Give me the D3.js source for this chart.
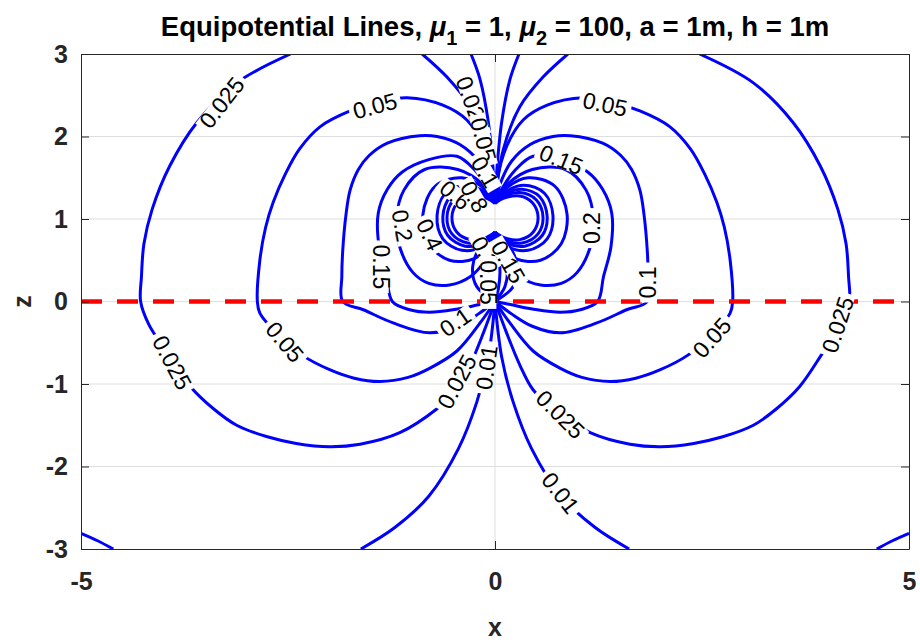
<!DOCTYPE html>
<html>
<head>
<meta charset="utf-8">
<script src="https://d3js.org/d3.v7.min.js"></script>
<style>
  body { margin: 0; background: #fff; }
  text { font-family: "Liberation Sans", Arial, Helvetica, sans-serif; }
</style>
</head>
<body>
<div id="chart"></div>
<script>

// axis ticks
var xTicks = [-5, 0, 5];
var zTicks = [-3, -2, -1, 0, 1, 2, 3];

// contour pieces, right half (x >= 0), mirrored for the left half
// points are [x, z]
var c001Top   = [[0,1.19],[0.02,1.56],[0.08,2.17],[0.18,2.69],[0.29,3.0]];
var c0025Top  = [[0,1.19],[0.10,1.84],[0.30,2.36],[0.58,2.72],[0.88,3.0]];
var c005      = [[0,1.19],[0.02,1.44],[0.14,1.88],[0.34,2.20],[0.63,2.38],[1.06,2.47],[1.40,2.42],
                 [1.75,2.31],[2.11,2.12],[2.36,1.85],[2.53,1.55],[2.68,1.2],[2.77,0.9],[2.84,0.5],
                 [2.87,0.0],[2.84,-0.14],[2.6,-0.42],[2.33,-0.65],[1.99,-0.83],[1.7,-0.93],[1.39,-0.97],
                 [1.05,-0.92],[0.79,-0.81],[0.46,-0.6],[0.18,-0.26],[0,0]];
var c01       = [[0,1.19],[0.06,1.42],[0.2,1.7],[0.42,1.9],[0.7,2.0],[0.91,2.01],[1.30,1.92],[1.52,1.77],
                 [1.65,1.6],[1.75,1.35],[1.80,1.05],[1.84,0.6],[1.85,0.3],[1.84,0],[1.59,-0.1],
                 [1.23,-0.26],[0.79,-0.38],[0.45,-0.3],[0.2,-0.15],[0,0]];
var c015      = [[0,1.19],[0.08,1.36],[0.25,1.6],[0.46,1.76],[0.8,1.72],[1.12,1.57],[1.30,1.36],
                 [1.41,1.07],[1.40,0.66],[1.31,0.30],[1.24,0],[1.03,-0.1],[0.79,-0.13],[0.45,-0.09],
                 [0.2,-0.04],[0,0]];
var c02       = [[0,1.19],[0.15,1.42],[0.45,1.6],[0.85,1.6],[1.1,1.35],[1.19,1.0],[1.15,0.66],
                 [0.99,0.35],[0.8,0.22],[0.55,0.2],[0.3,0.3],[0.12,0.5],[0.03,0.7],[0,0.84]];
var c04       = [[0,1.19],[0.12,1.36],[0.4,1.5],[0.72,1.4],[0.87,1.06],[0.8,0.7],[0.55,0.5],
                 [0.25,0.52],[0.06,0.7],[0,0.84]];
var c06       = [[0,1.19],[0.1,1.31],[0.35,1.41],[0.6,1.31],[0.70,1.04],[0.63,0.76],[0.4,0.62],
                 [0.15,0.67],[0,0.84]];
var c08       = [[0,1.19],[0.1,1.29],[0.32,1.36],[0.54,1.27],[0.63,1.03],[0.57,0.8],[0.36,0.67],
                 [0.14,0.71],[0,0.84]];
var c1        = [[0,1.19],[0.1,1.27],[0.3,1.32],[0.5,1.23],[0.58,1.02],[0.52,0.82],[0.33,0.71],
                 [0.13,0.74],[0,0.84]];
var c2        = [[0,1.19],[0.1,1.25],[0.3,1.28],[0.45,1.2],[0.52,1.02],[0.46,0.84],[0.3,0.75],
                 [0.12,0.77],[0,0.84]];
var stemA     = [[0,0.84],[0.04,0.6],[0.06,0.35],[0.04,0.15],[0,0]];
var stemB     = [[0,0.84],[0.1,0.62],[0.15,0.4],[0.12,0.18],[0,0]];
var stemC     = [[0,0.84],[0.18,0.66],[0.27,0.42],[0.22,0.18],[0,0]];
var c001Low   = [[0,0],[0.08,-0.67],[0.22,-1.22],[0.44,-1.78],[0.80,-2.36],[1.21,-2.74],[1.62,-3.0]];
var c0025Out  = [[2.47,3.0],[3.12,2.65],[3.60,2.17],[3.93,1.64],[4.14,1.12],[4.24,0.7],[4.27,0.3],
                 [4.28,0.0],[4.18,-0.28],[3.96,-0.62],[3.68,-1.03],[3.4,-1.3],[3.12,-1.50],[2.75,-1.64],
                 [2.4,-1.72],[2.0,-1.76],[1.63,-1.73],[1.15,-1.59],[0.70,-1.3],[0.46,-1.07],
                 [0.30,-0.77],[0.14,-0.38],[0,0]];
var c001Corner = [[4.61,-3.0],[4.8,-2.9],[5.0,-2.81]];

var pieces = [c001Top, c0025Top, c005, c01, c015, c02, c04, c06, c08, c1, c2,
              stemA, stemB, stemC, c001Low, c0025Out, c001Corner];

// contour labels: text, x, z, angle (deg)
var labText  = ["0.025","0.05","0.05","0.15","0.2","0.1","0.025","0.05","0.025","0.01","0.01","0.025",
                "0.1","0.05","0.025","0.15","0.2","0.4","0.6","0.8","0.025","0.05","0.1","0.1","0.15","0.05"];
var labX     = [-3.30,-1.45,1.33,0.80,1.17,1.85,4.14,2.62,0.79,0.79,-0.10,-0.46,
                -0.48,-2.54,-3.90,-1.38,-1.12,-0.79,-0.48,-0.25,-0.27,-0.14,-0.12,-0.12,0.16,-0.08];
var labZ     = [2.41,2.37,2.39,1.72,0.89,0.23,-0.28,-0.44,-1.37,-2.32,-0.80,-0.97,
                -0.25,-0.49,-0.74,0.42,0.92,0.81,1.29,1.27,2.39,1.96,1.57,0.60,0.48,0.23];
var labAngle = [-52,-15,12,22,-90,-90,-72,-48,45,52,-82,-62,
                -35,50,62,90,80,65,40,60,70,75,60,60,60,90];

var W = 920, H = 643;
var svg = d3.select("#chart").append("svg")
    .attr("width", W).attr("height", H);

var x = d3.scaleLinear().domain([-5, 5]).range([81, 909]);
var y = d3.scaleLinear().domain([-3, 3]).range([549, 54]);

svg.append("clipPath").attr("id", "clip")
  .append("rect")
    .attr("x", x(-5)).attr("y", y(3))
    .attr("width", x(5) - x(-5)).attr("height", y(-3) - y(3));

// grid
var grid = svg.append("g");
grid.selectAll(".hg").data(zTicks.slice(1, -1)).enter().append("line")
    .attr("x1", x(-5)).attr("x2", x(5))
    .attr("y1", function(d) { return y(d); }).attr("y2", function(d) { return y(d); })
    .attr("stroke", "#dedede").attr("stroke-width", 1);
grid.selectAll(".vg").data(xTicks.slice(1, -1)).enter().append("line")
    .attr("y1", y(-3)).attr("y2", y(3))
    .attr("x1", function(d) { return x(d); }).attr("x2", function(d) { return x(d); })
    .attr("stroke", "#dedede").attr("stroke-width", 1);

// contour lines
var line = d3.line()
    .x(function(d) { return x(d[0]); })
    .y(function(d) { return y(d[1]); })
    .curve(d3.curveCatmullRom.alpha(0.5));

var lines = svg.append("g").attr("clip-path", "url(#clip)");
pieces.forEach(function(p) {
  var mirrored = p.map(function(d) { return [-d[0], d[1]]; });
  [p, mirrored].forEach(function(pts) {
    lines.append("path")
      .datum(pts)
      .attr("fill", "none")
      .attr("stroke", "#0000ff")
      .attr("stroke-width", 3)
      .attr("stroke-linejoin", "round")
      .attr("d", line);
  });
});

// interface z = 0
svg.append("line")
    .attr("x1", x(-5)).attr("x2", x(5))
    .attr("y1", y(0)).attr("y2", y(0))
    .attr("stroke", "#ff0000").attr("stroke-width", 4.5)
    .attr("stroke-dasharray", "21,15");

// contour labels, with a white strip that breaks the line like clabel does
var lab = svg.append("g").selectAll("g").data(labText).enter().append("g")
    .attr("transform", function(d, i) {
      return "translate(" + x(labX[i]) + "," + y(labZ[i]) + ") rotate(" + labAngle[i] + ")";
    });
lab.append("rect").attr("fill", "#fff");
lab.append("text")
    .attr("text-anchor", "middle")
    .attr("dy", "0.35em")
    .attr("font-size", "23px")
    .attr("fill", "#000")
    .text(function(d) { return d; });
lab.each(function() {
  var g = d3.select(this);
  var w = g.select("text").node().getComputedTextLength() + 8;
  g.select("rect").attr("x", -w / 2).attr("y", -8).attr("width", w).attr("height", 16);
});

// axes (box with inward ticks)
function styleAxis(g) {
  g.selectAll("path").attr("stroke", "#262626");
  g.selectAll("line").attr("stroke", "#262626");
  g.selectAll("text").attr("font-size", "25px").attr("font-weight", "bold").attr("fill", "#262626")
    .style("font-family", "'Liberation Sans', Arial, sans-serif");
}
svg.append("g").attr("transform", "translate(0," + y(-3) + ")")
    .call(d3.axisBottom(x).tickValues(xTicks).tickSizeInner(-8).tickSizeOuter(0).tickPadding(23)
      .tickFormat(function(d) { return String(d); }))
    .call(styleAxis);
svg.append("g").attr("transform", "translate(0," + y(3) + ")")
    .call(d3.axisTop(x).tickValues(xTicks).tickSizeInner(-8).tickSizeOuter(0).tickFormat(""))
    .call(styleAxis);
svg.append("g").attr("transform", "translate(" + x(-5) + ",0)")
    .call(d3.axisLeft(y).tickValues(zTicks).tickSizeInner(-8).tickSizeOuter(0).tickPadding(13)
      .tickFormat(function(d) { return String(d); }))
    .call(styleAxis);
svg.append("g").attr("transform", "translate(" + x(5) + ",0)")
    .call(d3.axisRight(y).tickValues(zTicks).tickSizeInner(-8).tickSizeOuter(0).tickFormat(""))
    .call(styleAxis);

// axis labels
svg.append("text").attr("x", x(0)).attr("y", 636)
    .attr("text-anchor", "middle").attr("font-size", "25px").attr("font-weight", "bold")
    .attr("fill", "#262626").text("x");
svg.append("text").attr("transform", "translate(31," + y(0) + ") rotate(-90)")
    .attr("text-anchor", "middle").attr("font-size", "25px").attr("font-weight", "bold")
    .attr("fill", "#262626").text("z");

// title
var title = svg.append("text").attr("x", x(0)).attr("y", 36)
    .attr("text-anchor", "middle").attr("font-size", "27.5px").attr("font-weight", "bold")
    .attr("fill", "#000");
title.append("tspan").text("Equipotential Lines, ");
title.append("tspan").attr("font-style", "italic").text("\u03bc");
title.append("tspan").attr("font-size", "20px").attr("dy", 9).text("1");
title.append("tspan").attr("dy", -9).text(" = 1, ");
title.append("tspan").attr("font-style", "italic").text("\u03bc");
title.append("tspan").attr("font-size", "20px").attr("dy", 9).text("2");
title.append("tspan").attr("dy", -9).text(" = 100, a = 1m, h = 1m");

</script>
</body>
</html>
